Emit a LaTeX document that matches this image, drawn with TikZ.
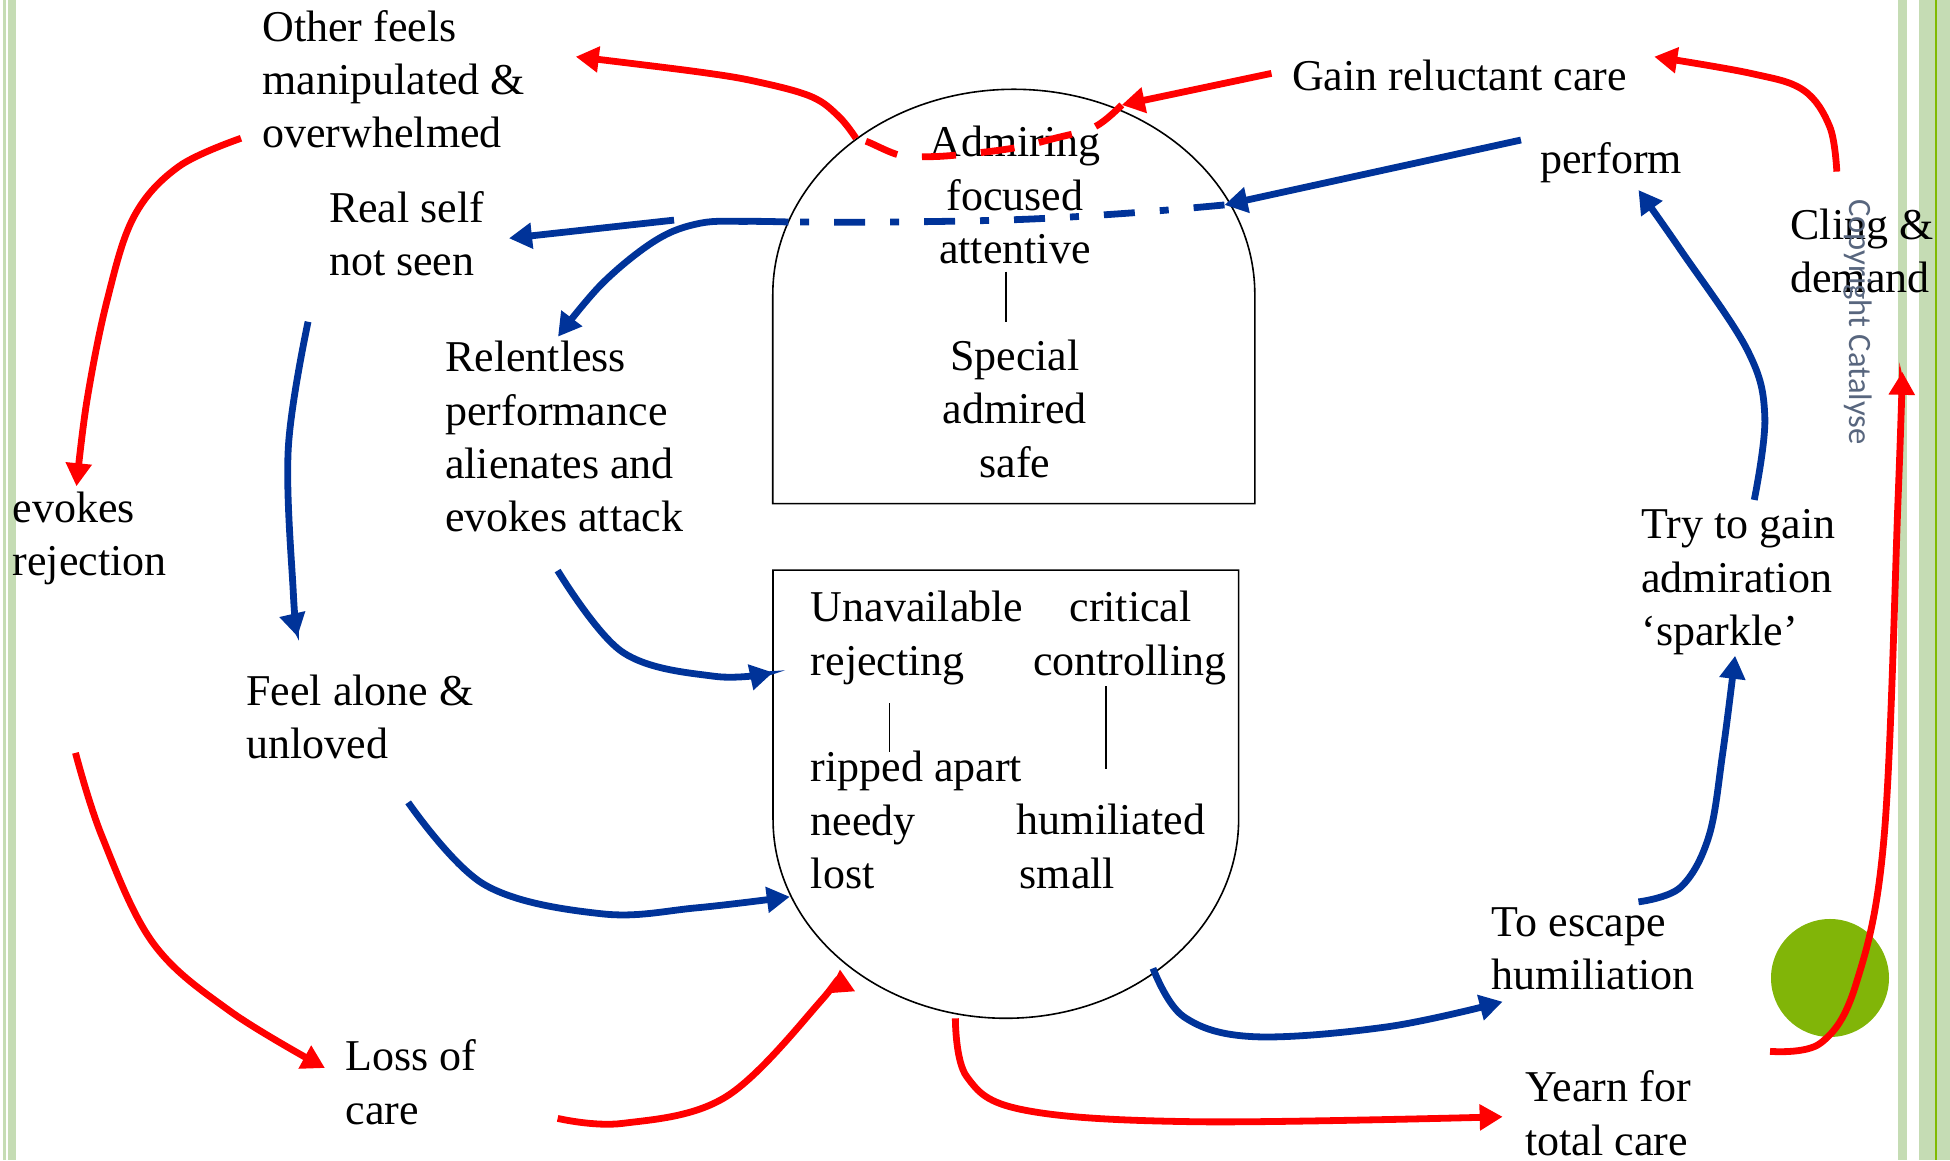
\documentclass[tikz,border=0pt]{standalone}
\usepackage{fontspec}
\setmainfont{Liberation Serif}
\newfontfamily\markfont{Carlito}
\usetikzlibrary{arrows.meta}
\definecolor{flowred}{RGB}{255,0,0}
\definecolor{flowblue}{RGB}{0,51,153}
\definecolor{stripegreen}{RGB}{197,220,180}
\definecolor{linegreen}{RGB}{128,186,0}
\definecolor{dotgreen}{RGB}{129,181,8}
\definecolor{markgray}{RGB}{88,102,126}
% multi-line labels are placed by the baseline of their last line
\tikzset{
  lbl/.style={inner sep=0pt, outer sep=0pt, anchor=base west, align=left,
    font=\fontsize{22}{26.68}\selectfont},
  clbl/.style={lbl, anchor=base, align=center},
  tipshape/.style={-{Triangle[length=11.5pt,width=12.5pt]}},
  redline/.style={line width=3.4pt, draw=flowred},
  blueline/.style={line width=3.4pt, draw=flowblue},
  redflow/.style={redline, tipshape},
  blueflow/.style={blueline, tipshape},
  reddash/.style={redline, dash pattern=on 17pt off 12.5pt},
  bluedashdot/.style={blueline, dash pattern=on 15.5pt off 12.5pt on 4.5pt off 12.5pt},
  outline/.style={draw=black, line width=0.8pt},
  tick/.style={draw=black, line width=0.75pt}
}
\begin{document}
\begin{tikzpicture}[x=0.62181pt, y=-0.62181pt]
\useasboundingbox (0,0) rectangle (1568,933);

% slide frame: green stripes and dot
\fill[stripegreen] (2.4,0) rectangle (4.8,933);
\fill[stripegreen] (6.7,0) rectangle (12.6,933);
\fill[stripegreen] (1526.4,0) rectangle (1533.2,933);
\fill[stripegreen] (1543,0) rectangle (1568,933);
\fill[linegreen] (1556,0) rectangle (1557.6,933);
\fill[dotgreen] (1471.5,786.4) circle[radius=29.5pt];

% upper (idealised) figure: arch-topped box
\draw[outline] (621.4,405) -- (621.4,236.8)
  arc[start angle=180, end angle=0, x radius=120.51pt, y radius=102.6pt]
  -- (1009,405) -- cycle;
% lower (devalued) figure: box with rounded bottom
\draw[outline] (621.6,458.4) -- (621.6,658.8)
  arc[start angle=180, end angle=360, x radius=116.4pt, y radius=99.49pt]
  -- (996,458.4) -- cycle;

% labels
\node[lbl] (other) at (211,118.8) {Other feels\\manipulated \&\\overwhelmed};
\node[lbl] (real) at (264.6,221.9) {Real self\\not seen};
\node[lbl] (relent) at (358,427.7) {Relentless\\performance\\alienates and\\evokes attack};
\node[lbl] (evokes) at (10.3,462.9) {evokes\\rejection};
\node[lbl] (alone) at (198,609.9) {Feel alone \&\\unloved};
\node[lbl] (loss) at (278,903.9) {Loss of\\care};
\node[clbl] (admiring) at (816,211.8) {Admiring\\focused\\attentive};
\node[clbl] (special) at (816,383.8) {Special\\admired\\safe};
\node[lbl] (unavail) at (652,542.9) {Unavailable\\rejecting};
\node[lbl] (critical) at (860,500) {critical};
\node[lbl] (controlling) at (830.8,542.8) {controlling};
\node[lbl] (ripped) at (652,714.4) {ripped apart\\needy\\lost};
\node[lbl] (humil) at (817.6,671.4) {humiliated};
\node[lbl] (small) at (820,714.3) {small};
\node[lbl] (gain) at (1039,72.4) {Gain reluctant care};
\node[lbl] (perform) at (1238.6,139.4) {perform};
\node[lbl] (cling) at (1439.7,235.3) {Cling \&\\demand};
\node[lbl] (try) at (1319.8,519) {Try to gain\\admiration\\‘sparkle’};
\node[lbl] (escape) at (1199.7,795.9) {To escape\\humiliation};
\node[lbl] (yearn) at (1226.5,928.9) {Yearn for\\total care};

\node[rotate=-90, inner sep=0pt, text=markgray,
  font=\markfont\fontsize{16.3}{18}\selectfont] (mark) at (1494,259) {Copyright Catalyse};

% inner ticks
\coordinate (tickAa) at (808.8,218.5);  \coordinate (tickAb) at (808.8,258.7);
\coordinate (tickBa) at (715.4,565.6);  \coordinate (tickBb) at (715.4,605);
\coordinate (tickCa) at (889.3,552);    \coordinate (tickCb) at (889.3,618.6);
\draw[tick] (tickAa) -- (tickAb);
\draw[tick] (tickBa) -- (tickBb);
\draw[tick] (tickCa) -- (tickCb);

% connector ends
\coordinate (perfOut) at (1223,112.6);
\coordinate (archR) at (984.6,164.8);
\coordinate (archL) at (634,178.5);
\coordinate (realIn) at (409.3,191.6);
\coordinate (realOut) at (542,177);
\coordinate (relentIn) at (448.7,270.7);
\coordinate (gainOut) at (1022.4,59);
\coordinate (archTR) at (902,84.4);
\coordinate (archTL) at (688.3,111.2);
\coordinate (otherIn) at (463,45.6);
\coordinate (otherOut) at (193.8,111.2);
\coordinate (evokesIn) at (61.5,391);
\coordinate (evokesOut) at (60.7,605.4);
\coordinate (lossIn) at (261.3,858.8);
\coordinate (lossOut) at (448.4,899.3);
\coordinate (lowerIn) at (675.4,779.4);
\coordinate (lowerOutR) at (768.2,818.8);
\coordinate (yearnIn) at (1208.3,898);
\coordinate (yearnOut) at (1423.3,845.4);
\coordinate (clingIn) at (1529.7,299);
\coordinate (clingOut) at (1477,138);
\coordinate (gainIn) at (1330.2,45.6);
\coordinate (realDown) at (247.7,258.7);
\coordinate (aloneIn) at (239.2,511.8);
\coordinate (aloneOut) at (328.2,645.2);
\coordinate (lowerInL) at (635.1,721.1);
\coordinate (relentOut) at (448.4,458.8);
\coordinate (lowerInT) at (621.6,540.7);
\coordinate (lowerOutB) at (927.1,778.6);
\coordinate (escapeIn) at (1208.3,805.5);
\coordinate (escapeOut) at (1317.5,725.2);
\coordinate (tryIn) at (1395.2,527.3);
\coordinate (tryOut) at (1410.6,402);
\coordinate (performIn) at (1317.5,152.8);

% blue: performing cycle
\draw[blueflow] (perfOut) -- (archR);
\draw[bluedashdot] plot[smooth, tension=0.6] coordinates {(archR) (908.6,171.3) (820,176.5) (720,178.5) (archL)};
\draw[blueflow] (realOut) -- (realIn);
\draw[blueflow] plot[smooth, tension=0.6] coordinates {(archL) (600,178) (563,179.5) (527.7,193) (484.6,227.6) (relentIn)};
\draw[blueflow] plot[smooth, tension=0.6] coordinates {(realDown) (231.8,360.6) (235.9,477.6) (aloneIn)};
\draw[blueflow] plot[smooth, tension=0.6] coordinates {(aloneOut) (389.7,711.4) (484.1,734.8) (560,730) (lowerInL)};
\draw[blueflow] plot[smooth, tension=0.6] coordinates {(relentOut) (500.5,524.3) (574.4,543.8) (lowerInT)};
\draw[blueflow] plot[smooth, tension=0.6] coordinates {(lowerOutB) (951.8,817.5) (1008.2,833.6) (1116,825.6) (escapeIn)};
\draw[blueflow] plot[smooth, tension=0.6] coordinates {(escapeOut) (1351.4,713.4) (1374,672.8) (1385.3,605) (tryIn)};
\draw[blueflow] plot[smooth, tension=0.6] coordinates {(tryOut) (1419.1,335) (1405,281.4) (1351.4,201) (performIn)};

% red: care-seeking cycle
\draw[redflow] (gainOut) -- (archTR);
\draw[reddash] plot[smooth, tension=0.6] coordinates {(archTR) (880.5,101.9) (849,111) (814.2,119.2) (770,124.6) (744.5,126) (722.7,124.6) (697.5,114) (archTL)};
\draw[redflow] plot[smooth, tension=0.6] coordinates {(archTL) (674.6,93.8) (652.6,77.8) (610,66) (563,58) (otherIn)};
\draw[redflow] plot[smooth, tension=0.6] coordinates {(otherOut) (143.6,134) (107.7,174.2) (86.2,241.2) (70,321.6) (evokesIn)};
\draw[redflow] plot[smooth, tension=0.6] coordinates {(evokesOut) (82,672.5) (123,758.2) (184.6,812.8) (lossIn)};
\draw[redflow] plot[smooth, tension=0.6] coordinates {(lossOut) (500.7,903.3) (583.8,881.9) (660.7,804.1) (lowerIn)};
\draw[redflow] plot[smooth, tension=0.6] coordinates {(lowerOutR) (777.4,865.8) (823.6,892.6) (962,902) (yearnIn)};
\draw[redflow] plot[smooth, tension=0.6] coordinates {(yearnOut) (1464,838.7) (1492.5,791) (1515,672.8) (1526.2,402) (clingIn)};
\draw[redflow] plot[smooth, tension=0.6] coordinates {(clingOut) (1471.3,101.9) (1450,72.4) (1407.8,59) (gainIn)};
\end{tikzpicture}
\end{document}
